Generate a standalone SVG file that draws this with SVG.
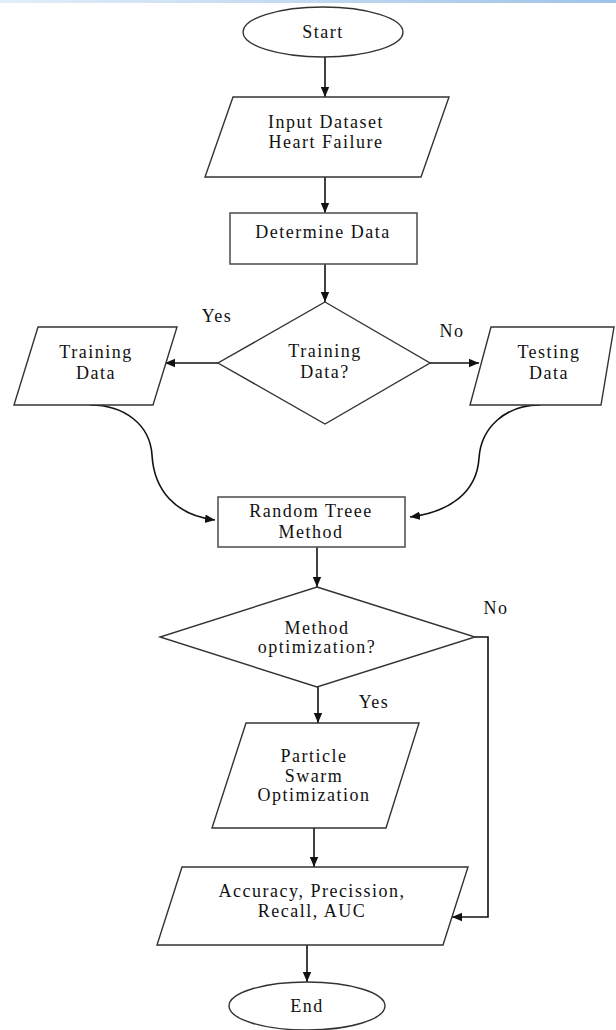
<svg xmlns="http://www.w3.org/2000/svg" width="616" height="1030" viewBox="0 0 616 1030">
<defs>
<linearGradient id="bar" x1="0" y1="0" x2="1" y2="0">
<stop offset="0" stop-color="#e3eef9"/>
<stop offset="1" stop-color="#9fc3e8"/>
</linearGradient>
<marker id="ah" viewBox="0 0 10 10" refX="10" refY="5" markerWidth="10" markerHeight="10" markerUnits="userSpaceOnUse" orient="auto">
<path d="M0,0.8 L10,5 L0,9.2 z" fill="#111"/>
</marker>
<style>
.shape{fill:#fff;stroke:#333;stroke-width:1.4}
.box{fill:#fff;stroke:#555;stroke-width:1.6}
.conn{fill:none;stroke:#111;stroke-width:1.6;marker-end:url(#ah)}
text{font-family:"Liberation Serif","Times New Roman",serif;font-size:18px;letter-spacing:1.5px;fill:#111;text-anchor:middle}
</style>
</defs>
<rect x="0" y="0" width="616" height="1030" fill="#fff"/>
<rect x="0" y="0" width="616" height="3" fill="url(#bar)"/>

<g id="connectors">
<path class="conn" d="M325,57 L325,97"/>
<path class="conn" d="M325,177 L325,213"/>
<path class="conn" d="M325,264 L325,302"/>
<path class="conn" d="M218,363 L165,363"/>
<path class="conn" d="M430,363 L479,363"/>
<path class="conn" d="M90,405 C125,405 150,425 152,455 C154,490 175,515 215,520"/>
<path class="conn" d="M540,405 C505,405 481,428 479,458 C477,492 450,512 410,517"/>
<path class="conn" d="M317,547 L317,587"/>
<path class="conn" d="M318,687 L318,723"/>
<path class="conn" d="M314,828 L314,867"/>
<path class="conn" d="M307,945 L307,982"/>
<path class="conn" d="M475,637 L488,637 L488,917 L452,917"/>
</g>

<g id="start">
<ellipse class="shape" cx="323" cy="32" rx="80" ry="25"/>
<text x="323" y="38">Start</text>
</g>

<g id="input">
<polygon class="shape" points="233,97 449,97 421,177 205,177"/>
<text x="326" y="128">Input Dataset</text>
<text x="326" y="148">Heart Failure</text>
</g>

<g id="determine">
<rect class="box" x="230" y="213" width="187" height="51"/>
<text x="323" y="238">Determine Data</text>
</g>

<g id="decision1">
<polygon class="shape" points="325,302 430,363 325,424 218,363"/>
<text x="325" y="357">Training</text>
<text x="325" y="378">Data?</text>
</g>

<g id="label-yes1"><text x="217" y="322">Yes</text></g>
<g id="label-no1"><text x="452" y="337">No</text></g>

<g id="training">
<polygon class="shape" points="38,327 177,327 153,405 14,405"/>
<text x="96" y="358">Training</text>
<text x="96" y="379">Data</text>
</g>

<g id="testing">
<polygon class="shape" points="491,327 614,327 601,405 470,405"/>
<text x="549" y="358">Testing</text>
<text x="549" y="379">Data</text>
</g>

<g id="randomtree">
<rect class="box" x="218" y="497" width="187" height="50"/>
<text x="311" y="517">Random Treee</text>
<text x="311" y="538">Method</text>
</g>

<g id="decision2">
<polygon class="shape" points="317,587 475,637 317,687 160,637"/>
<text x="317" y="634">Method</text>
<text x="317" y="653">optimization?</text>
</g>

<g id="label-no2"><text x="496" y="614">No</text></g>
<g id="label-yes2"><text x="374" y="708">Yes</text></g>

<g id="pso">
<polygon class="shape" points="246,723 419,723 386,828 212,828"/>
<text x="314" y="762">Particle</text>
<text x="314" y="782">Swarm</text>
<text x="314" y="801">Optimization</text>
</g>

<g id="metrics">
<polygon class="shape" points="182,867 468,867 443,945 157,945"/>
<text x="312" y="897">Accuracy, Precission,</text>
<text x="312" y="917">Recall, AUC</text>
</g>

<g id="end">
<ellipse class="shape" cx="307" cy="1006" rx="78" ry="24"/>
<text x="307" y="1012">End</text>
</g>
</svg>
